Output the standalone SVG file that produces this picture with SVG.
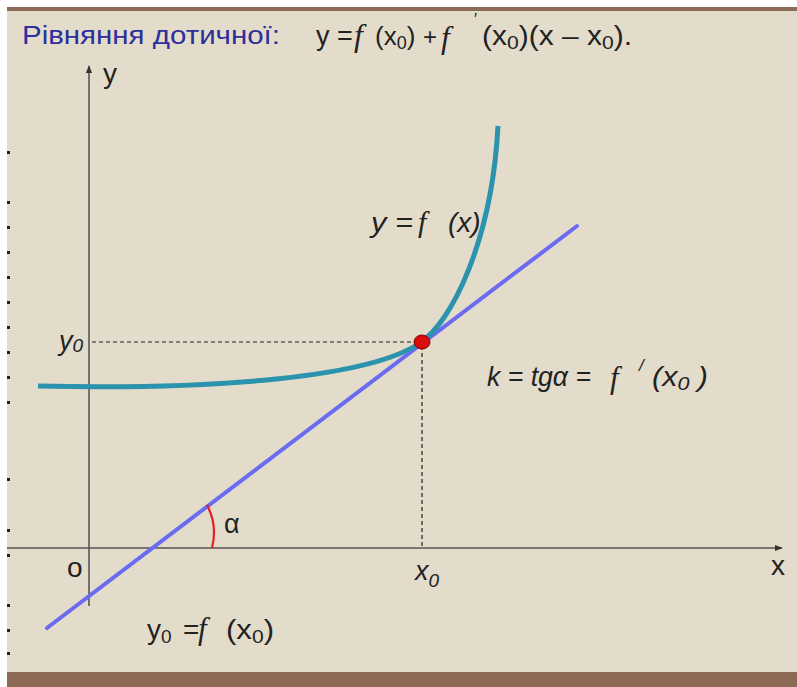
<svg xmlns="http://www.w3.org/2000/svg" width="797" height="687" viewBox="0 0 797 687">
<defs>
<style>
.sans{font-family:"Liberation Sans",Arial,sans-serif;fill:#222}
.it{font-style:italic}
.ser{font-family:"Liberation Serif","Times New Roman",serif;font-style:italic;fill:#222}
.axis{stroke:#555;stroke-width:1.6;fill:none}
.dash{stroke:#222;stroke-width:1.2;stroke-dasharray:4 3;fill:none}
.dot{fill:#222}
</style>
<marker id="arr" viewBox="0 0 10 10" refX="9" refY="5" markerWidth="5" markerHeight="5" orient="auto">
<path d="M0,1 L10,5 L0,9 Z" fill="#333"/>
</marker>
</defs>
<rect x="0" y="0" width="797" height="687" fill="#ffffff"/>
<rect x="7" y="7" width="790" height="680" fill="#e3dccb"/>
<rect x="7" y="7" width="790" height="4" fill="#8e6b57"/>
<rect x="7" y="672" width="790" height="15" fill="#8c6a55"/>
<g id="edge-dots">
<rect class="dot" x="7" y="151" width="3" height="3"/>
<rect class="dot" x="7" y="201" width="3" height="3"/>
<rect class="dot" x="7" y="226" width="3" height="3"/>
<rect class="dot" x="7" y="251" width="3" height="3"/>
<rect class="dot" x="7" y="276" width="3" height="3"/>
<rect class="dot" x="7" y="301" width="3" height="3"/>
<rect class="dot" x="7" y="326" width="3" height="3"/>
<rect class="dot" x="7" y="351" width="3" height="3"/>
<rect class="dot" x="7" y="376" width="3" height="3"/>
<rect class="dot" x="7" y="401" width="3" height="3"/>
<rect class="dot" x="7" y="478" width="3" height="3"/>
<rect class="dot" x="7" y="529" width="3" height="3"/>
<rect class="dot" x="7" y="554" width="3" height="3"/>
<rect class="dot" x="7" y="604" width="3" height="3"/>
<rect class="dot" x="7" y="629" width="3" height="3"/>
<rect class="dot" x="7" y="652" width="3" height="3"/>
</g>
<g id="title">
<text class="sans" x="22" y="44" font-size="25" style="fill:#2e2e9c" textLength="258" lengthAdjust="spacingAndGlyphs">Рівняння дотичної:</text>
<text class="sans" x="316" y="45" font-size="27">y =</text>
<text class="ser" x="354" y="46" font-size="32">f</text>
<text class="sans" x="375" y="45" font-size="26">(x<tspan font-size="18" dy="4">0</tspan><tspan dy="-4">)</tspan></text>
<text class="sans" x="423" y="45" font-size="24">+</text>
<text class="ser" x="441" y="48" font-size="32">f</text>
<text class="sans" x="474" y="25" font-size="16">′</text>
<text class="sans" x="482" y="45" font-size="27" textLength="150" lengthAdjust="spacingAndGlyphs">(x<tspan font-size="19" dy="4">0</tspan><tspan dy="-4">)(x – x</tspan><tspan font-size="19" dy="4">0</tspan><tspan dy="-4">).</tspan></text>
</g>
<g id="axes">
<line class="axis" x1="89" y1="606" x2="89" y2="66" marker-end="url(#arr)"/>
<line class="axis" x1="7" y1="548" x2="782" y2="548" marker-end="url(#arr)"/>
</g>
<g id="connectors">
<line class="dash" x1="92" y1="342" x2="418" y2="342"/>
<line class="dash" x1="422" y1="346" x2="422" y2="548"/>
</g>
<g id="tangent">
<line x1="47" y1="628" x2="577" y2="226" stroke="#6b6bf2" stroke-width="4" stroke-linecap="round"/>
</g>
<g id="curve">
<path d="M38,386 C220,390 370,377 420,343 C452,322 492,240 498,126" fill="none" stroke="#2b93ad" stroke-width="5"/>
</g>
<g id="angle">
<path d="M207,505 A60,60 0 0,1 212,548" fill="none" stroke="#e02222" stroke-width="2.2"/>
<text class="sans" x="224" y="533" font-size="27">α</text>
</g>
<g id="point">
<ellipse cx="422" cy="342" rx="8" ry="7" fill="#d80c0c" stroke="#8a0000" stroke-width="1"/>
</g>
<g id="labels">
<text class="sans" x="103" y="83" font-size="28">y</text>
<text class="sans" x="771" y="575" font-size="28">x</text>
<text class="sans" x="67" y="577" font-size="28">o</text>
<text class="sans it" x="59" y="350" font-size="27">y<tspan font-size="19" dy="2">0</tspan></text>
<text class="sans it" x="415" y="580" font-size="27">x<tspan font-size="19" dy="7">0</tspan></text>
<text class="sans it" x="371" y="232" font-size="28" textLength="42" lengthAdjust="spacingAndGlyphs">y =</text>
<text class="ser" x="418" y="232" font-size="30">f</text>
<text class="sans it" x="448" y="232" font-size="28">(x)</text>
<text class="sans it" x="487" y="386" font-size="27" textLength="104" lengthAdjust="spacingAndGlyphs">k = tgα =</text>
<text class="ser" x="610" y="388" font-size="31">f</text>
<text class="sans it" x="639" y="371" font-size="17">/</text>
<text class="sans it" x="652" y="386" font-size="27" textLength="56" lengthAdjust="spacingAndGlyphs">(x<tspan font-size="19" dy="4">0</tspan><tspan dy="-4"> )</tspan></text>
<text class="sans" x="147" y="639" font-size="28">y<tspan font-size="19" dy="4">0</tspan></text>
<text class="sans" x="183" y="639" font-size="28">=</text>
<text class="ser" x="198" y="639" font-size="31">f</text>
<text class="sans" x="226" y="639" font-size="28" textLength="48" lengthAdjust="spacingAndGlyphs">(x<tspan font-size="19" dy="4">0</tspan><tspan dy="-4">)</tspan></text>
</g>
</svg>
